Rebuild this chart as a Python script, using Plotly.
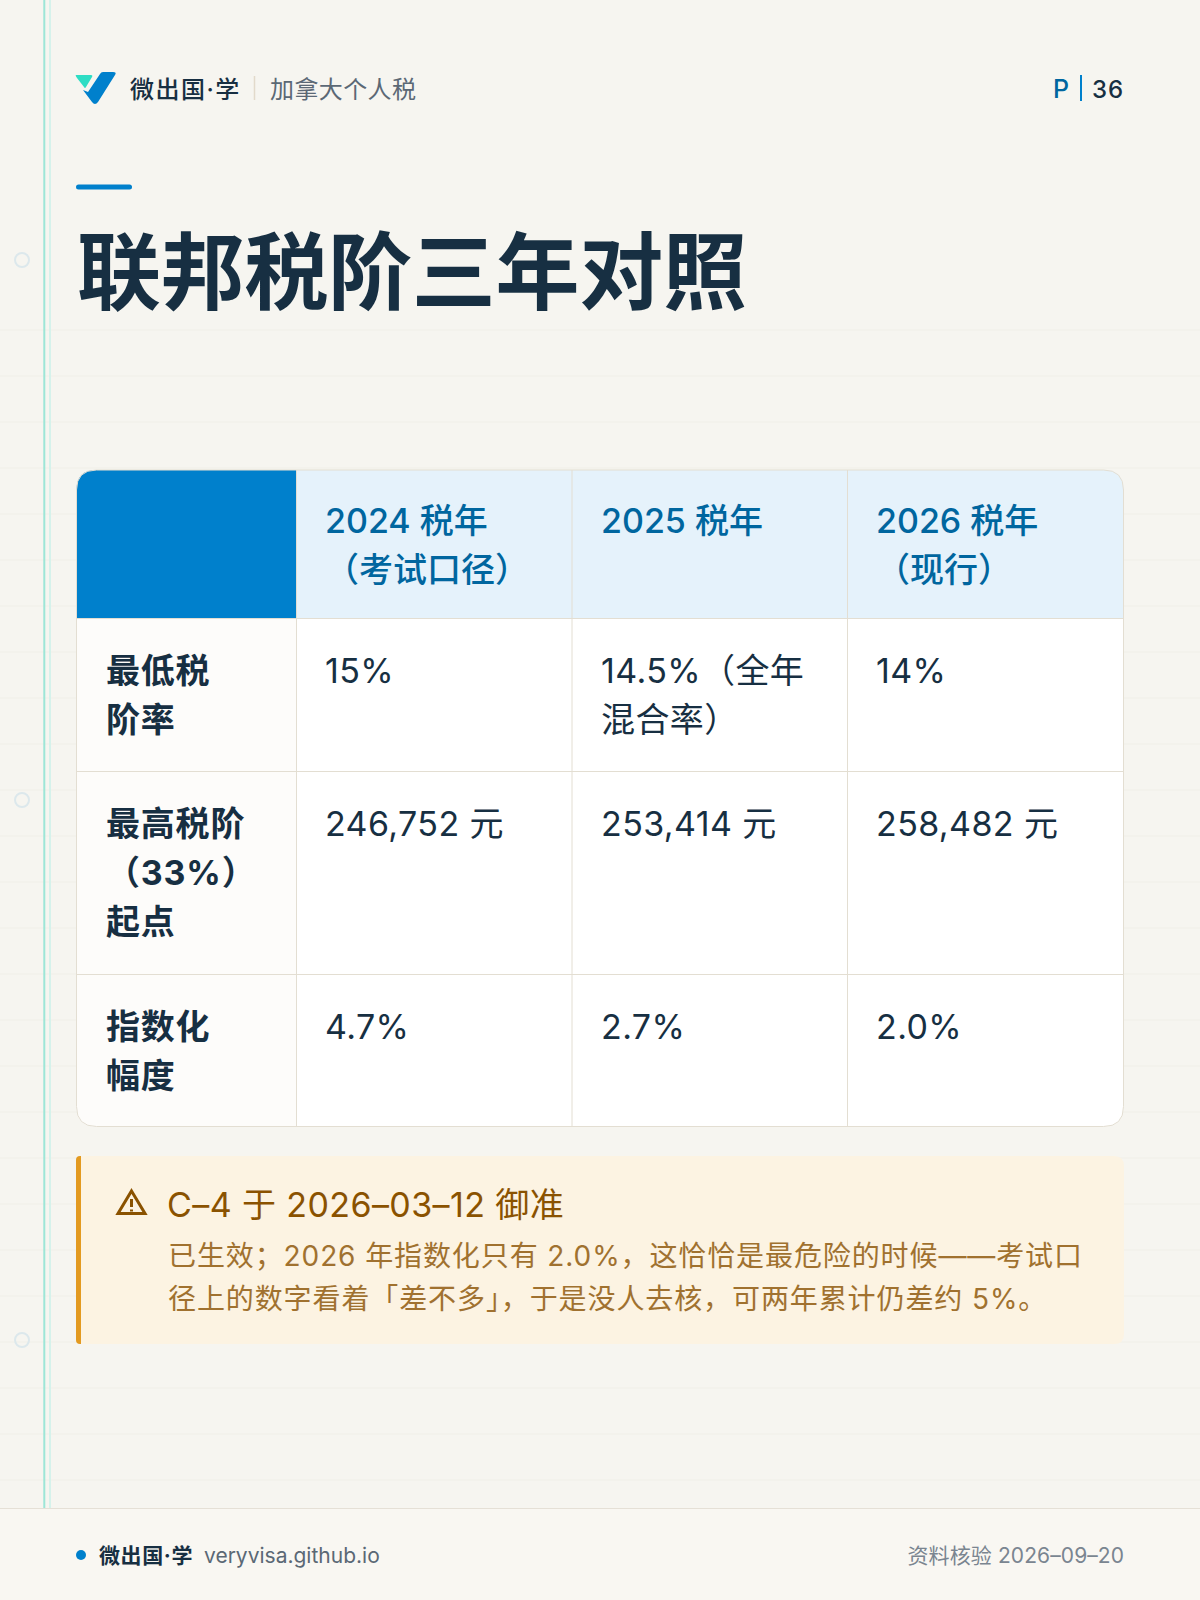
import plotly.graph_objects as go
import json

# ---- content ----
brand = "微出国·学"
section = "加拿大个人税"
page_prefix = "P"
page_no = "36"
title = "联邦税阶三年对照"
col_heads = [["2024 税年", "（考试口径）"], ["2025 税年"], ["2026 税年", "（现行）"]]
row_heads = [["最低税", "阶率"], ["最高税阶", "（33%）", "起点"], ["指数化", "幅度"]]
col_2024 = [["15%"], ["246,752 元"], ["4.7%"]]
col_2025 = [["14.5%（全年", "混合率）"], ["253,414 元"], ["2.7%"]]
col_2026 = [["14%"], ["258,482 元"], ["2.0%"]]
callout_title = "C–4 于 2026–03–12 御准"
callout_lines = ["已生效；2026 年指数化只有 2.0%，这恰恰是最危险的时候——考试口",
                 "径上的数字看着「差不多」，于是没人去核，可两年累计仍差约 5%。"]
foot_site = "veryvisa.github.io"
foot_right = "资料核验 2026–09–20"

FONT = "Inter, 'Noto Sans CJK SC', sans-serif"
BG = "#F6F5F0"; DARK = "#172F42"; BLUE = "#0080CC"; HEAD = "#00669F"; LINE = "#E3DED2"
GREY = "#5B6875"; AMBER = "#8A5200"

shapes = []
ann = []
spacing = []

def rect(x0, y0, x1, y1, fill, layer="below"):
    shapes.append(dict(type="rect", xref="x", yref="y", x0=x0, y0=y0, x1=x1, y1=y1,
                       fillcolor=fill, line_width=0, layer=layer))

def hline(y, x0, x1, color, w=1):
    shapes.append(dict(type="line", x0=x0, x1=x1, y0=y, y1=y, line=dict(color=color, width=w), layer="below"))

def vline(x, y0, y1, color, w=1):
    shapes.append(dict(type="line", x0=x, x1=x, y0=y0, y1=y1, line=dict(color=color, width=w), layer="below"))

def path(d, fill=None, line=None, w=0):
    s = dict(type="path", path=d, layer="below", line=dict(width=w, color=line or "rgba(0,0,0,0)"))
    if fill:
        s["fillcolor"] = fill
    shapes.append(s)

def rr(x0, y0, x1, y1, tl=0, tr=0, br=0, bl=0):
    return (f"M{x0+tl},{y0} L{x1-tr},{y0} Q{x1},{y0} {x1},{y0+tr} L{x1},{y1-br} Q{x1},{y1} {x1-br},{y1} "
            f"L{x0+bl},{y1} Q{x0},{y1} {x0},{y1-bl} L{x0},{y0+tl} Q{x0},{y0} {x0+tl},{y0} Z")

def text(x, y, s, size, color, weight=400, anchor="left", ls=0):
    ann.append(dict(x=x, y=y, text=s, xref="x", yref="y", showarrow=False, xanchor=anchor, yanchor="middle",
                    align=anchor, font=dict(family=FONT, size=size, color=color, weight=weight),
                    borderpad=0, borderwidth=0))
    spacing.append(ls)

# background lines
for y in range(330, 1500, 46):
    hline(y, 0, 1200, "rgba(225,220,208,0.22)")

# side rules / holes
rect(43.3, 0, 45.3, 1508, "#9DE6D7")
rect(49, 0, 51, 1508, "#D5F2EB")
for y in (260, 800, 1340):
    shapes.append(dict(type="circle", x0=15, x1=29, y0=y-7, y1=y+7, fillcolor="rgba(0,0,0,0)",
                       line=dict(color="#DCE8EC", width=2), layer="below"))

# header
path("M76,75 L91,75 Q93,75 92,77 L86,87 Q85,89 84,87 L77,78 Q75,75 76,75 Z", fill="#2EDDC4")
path("M103,72 L113,72 Q117,72 115,75 L98,102 Q95,106 92,102 L83,90 L88,92 L100,74 Q101,72 103,72 Z", fill=BLUE)
text(130, 89, brand, 24, DARK, 500, ls=1.5)
vline(254.5, 76, 100, "#E2DACB", 1.5)
text(270, 89, section, 24, GREY, ls=0.4)
text(1053, 89, page_prefix, 25, HEAD, 500, ls=1)
vline(1081, 75, 101, BLUE, 2)
text(1092, 89, page_no, 24, DARK, 500, ls=1)

# title
path(rr(76, 184.5, 132, 189.5, 2.5, 2.5, 2.5, 2.5), fill=BLUE)
text(77, 272.5, title, 84, DARK, 700, ls=-0.3)

# table
xs = [76.5, 296.5, 572, 847.5, 1123.5]
ys = [470, 618.5, 771.5, 974.5, 1126.5]
R = 20
path(rr(xs[0], ys[0], xs[4], ys[4], R, R, R, R), fill="#FFFFFF")
path(rr(xs[0], ys[0], xs[1], ys[1], R, 0, 0, 0), fill=BLUE)
path(rr(xs[1], ys[0], xs[4], ys[1], 0, R, 0, 0), fill="#E5F2FB")
path(rr(xs[0], ys[1], xs[1], ys[4], 0, 0, 0, R), fill="#FDFCFA")
for y in ys[1:4]:
    hline(y, xs[0], xs[4], LINE)
for x in xs[1:4]:
    vline(x, ys[0], ys[4], LINE)
path(rr(xs[0], ys[0], xs[4], ys[4], R, R, R, R), line=LINE, w=1)

PITCH = 49.3
PADY = 27
nudge = [0.5, 0.5, 0.5]
for c, lines in enumerate(col_heads):
    for i, s in enumerate(lines):
        text(xs[c+1]+28.5, ys[0]+50.5+i*PITCH, s, 34, HEAD, 500, ls=0)
columns = [col_2024, col_2025, col_2026]
for r, lines in enumerate(row_heads):
    for i, s in enumerate(lines):
        text(xs[0]+29.5, ys[r+1]+PADY+24+nudge[r]+i*PITCH, s, 34, DARK, 700, ls=0.8)
    for c, col in enumerate(columns):
        for i, s in enumerate(col[r]):
            text(xs[c+1]+28.5, ys[r+1]+PADY+24+nudge[r]+i*PITCH, s, 34, DARK, 400, ls=0.4)

# callout
path(rr(76, 1156, 1124, 1344, 10, 10, 10, 10), fill="#FCF3E2")
path(rr(76, 1156, 81, 1344, 4, 0, 0, 4), fill="#E39A20")
path("M131.5,1191 L145,1213.5 L118,1213.5 Z", line=AMBER, w=3)
path("M131.5,1199 L131.5,1207", line=AMBER, w=3)
path("M131.5,1209.5 L131.5,1211.5", line=AMBER, w=3)
text(167, 1204, callout_title, 34, AMBER, 400, ls=0.4)
for i, s in enumerate(callout_lines):
    text(167.5, 1256+i*43, s, 28, "#A0712F", 400, ls=0.9)

# footer
rect(0, 1508, 1200, 1600, "#F9F7F2")
hline(1508.5, 0, 1200, "#E5E0D6")
shapes.append(dict(type="circle", x0=76, x1=86, y0=1550, y1=1560, fillcolor=BLUE, line_width=0, layer="below"))
text(99, 1555, brand, 21, DARK, 700, ls=0.6)
text(204, 1555, foot_site, 21, GREY, ls=0)
text(1124, 1555, foot_right, 21, "#7A8590", 400, anchor="right", ls=0.1)

fig = go.Figure()
fig.update_layout(width=1200, height=1600, margin=dict(l=0, r=0, t=0, b=0),
                  paper_bgcolor=BG, plot_bgcolor=BG, showlegend=False,
                  xaxis=dict(range=[0, 1200], visible=False, fixedrange=True),
                  yaxis=dict(range=[1600, 0], visible=False, fixedrange=True),
                  shapes=shapes, annotations=ann)
post = ("document.body.style.margin='0';document.body.style.overflow='hidden';"
        "var ls=" + json.dumps(spacing) + ";"
        "document.querySelectorAll('.annotation-text').forEach(function(t,i){"
        "t.style.letterSpacing=ls[i]+'px';});")
fig.write_html("out.html", config=dict(displayModeBar=False), post_script=post)
